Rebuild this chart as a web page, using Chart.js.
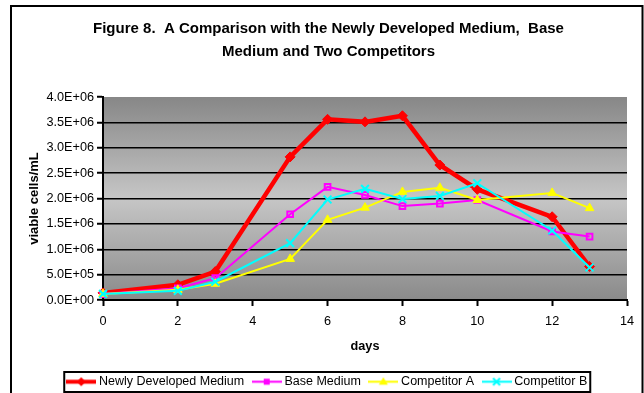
<!DOCTYPE html>
<html>
<head>
<meta charset="utf-8">
<script src="https://cdn.jsdelivr.net/npm/chart.js@4"></script>
<style>
  html, body { margin: 0; padding: 0; background: #fff; }
  #wrap { width: 644px; height: 393px; }
</style>
</head>
<body>
<div id="wrap"><canvas id="c" width="644" height="393"></canvas></div>
<script>
// Viable cell density over the culture period
const days = [0, 2, 3, 5, 6, 7, 8, 9, 10, 12, 13];
const newlyDeveloped = [140000, 300000, 560000, 2820000, 3560000, 3510000, 3630000, 2660000, 2180000, 1640000, 660000];
const baseMedium     = [120000, 230000, 430000, 1690000, 2230000, 2070000, 1850000, 1900000, 1970000, 1350000, 1250000];
const competitorA    = [120000, 200000, 320000, 810000, 1580000, 1820000, 2130000, 2210000, 1970000, 2110000, 1810000];
const competitorB    = [120000, 180000, 360000, 1120000, 1980000, 2190000, 1990000, 2050000, 2300000, 1370000, 640000];

const seriesNames = ['Newly Developed Medium', 'Base Medium', 'Competitor A', 'Competitor B'];
const titleLines = ['Figure 8.  A Comparison with the Newly Developed Medium,  Base', 'Medium and Two Competitors'];
const xTickLabels = ['0', '2', '4', '6', '8', '10', '12', '14'];
const yTickLabels = ['0.0E+00', '5.0E+05', '1.0E+06', '1.5E+06', '2.0E+06', '2.5E+06', '3.0E+06', '3.5E+06', '4.0E+06'];
const xTitle = 'days';
const yTitle = 'viable cells/mL';

const FONT = 'Liberation Sans';

const points = (ys) => days.map((d, i) => ({ x: d, y: ys[i] }));

// Small line-with-marker swatches for the legend
function swatch(color, lineW, shape) {
  const c = document.createElement('canvas');
  c.width = 30; c.height = 13;
  const g = c.getContext('2d');
  const cx = 15, cy = 6.5;
  g.strokeStyle = color; g.fillStyle = color; g.lineWidth = lineW;
  g.beginPath(); g.moveTo(0, cy); g.lineTo(30, cy); g.stroke();
  g.beginPath();
  if (shape === 'diamond') {
    g.moveTo(cx - 4.5, cy); g.lineTo(cx, cy - 4.5); g.lineTo(cx + 4.5, cy); g.lineTo(cx, cy + 4.5); g.closePath(); g.fill();
  } else if (shape === 'square') {
    g.fillRect(cx - 3, cy - 3, 6, 6);
  } else if (shape === 'triangle') {
    g.moveTo(cx, cy - 4.5); g.lineTo(cx + 4.5, cy + 3); g.lineTo(cx - 4.5, cy + 3); g.closePath(); g.fill();
  } else if (shape === 'cross') {
    g.lineWidth = 2;
    g.moveTo(cx - 3.5, cy - 3.5); g.lineTo(cx + 3.5, cy + 3.5);
    g.moveTo(cx + 3.5, cy - 3.5); g.lineTo(cx - 3.5, cy + 3.5); g.stroke();
  }
  return c;
}
const legendSwatches = [
  swatch('#ff0000', 4, 'diamond'),
  swatch('#ff00ff', 2, 'square'),
  swatch('#ffff00', 2, 'triangle'),
  swatch('#00ffff', 2, 'cross')
];

// Page background, chart frame and shaded plot area
const backdrop = {
  id: 'backdrop',
  beforeDraw(chart) {
    const { ctx, chartArea: a } = chart;
    ctx.save();
    ctx.fillStyle = '#ffffff';
    ctx.fillRect(0, 0, chart.width, chart.height);
    const grad = ctx.createLinearGradient(0, a.top, 0, a.bottom);
    grad.addColorStop(0, '#878787');
    grad.addColorStop(0.5, '#c6c6c6');
    grad.addColorStop(1, '#8a8a8a');
    ctx.fillStyle = grad;
    ctx.fillRect(a.left, a.top, a.right - a.left, a.bottom - a.top);
    ctx.restore();
  },
  afterDraw(chart) {
    const { ctx } = chart;
    ctx.save();
    ctx.strokeStyle = '#000';
    ctx.lineWidth = 2;
    ctx.strokeRect(11, 6, 631.5, 420);
    // box round the legend entries
    const hb = chart.legend.legendHitBoxes;
    if (hb && hb.length) {
      const first = hb[0], last = hb[hb.length - 1];
      const x0 = first.left - 5.5;
      const x1 = last.left + last.width + 3;
      const y0 = first.top - 3.5;
      ctx.strokeRect(x0, y0, x1 - x0, first.height + 7.5);
    }
    ctx.restore();
  }
};

const tickFont = { family: FONT, size: 12.7 };

new Chart(document.getElementById('c'), {
  type: 'line',
  data: {
    datasets: [
      { label: seriesNames[0], data: points(newlyDeveloped), borderColor: '#ff0000', backgroundColor: '#ff0000',
        borderWidth: 4.5, pointStyle: 'rectRot', pointRadius: 5, pointBorderWidth: 1, order: 3 },
      { label: seriesNames[1], data: points(baseMedium), borderColor: '#ff00ff', backgroundColor: 'rgba(0,0,0,0)',
        borderWidth: 2, pointStyle: 'rect', pointRadius: 4, pointBorderWidth: 2, order: 2 },
      { label: seriesNames[2], data: points(competitorA), borderColor: '#ffff00', backgroundColor: '#ffff00',
        borderWidth: 2, pointStyle: 'triangle', pointRadius: 5, pointBorderWidth: 1, order: 1 },
      { label: seriesNames[3], data: points(competitorB), borderColor: '#00ffff', backgroundColor: '#00ffff',
        borderWidth: 2, pointStyle: 'crossRot', pointRadius: 5.5, pointBorderWidth: 2, order: 0 }
    ]
  },
  options: {
    responsive: false,
    animation: false,
    devicePixelRatio: 1,
    clip: false,
    layout: { padding: { left: 30, right: 17, top: 0, bottom: -5 } },
    elements: { line: { tension: 0, fill: false } },
    scales: {
      x: {
        type: 'linear',
        min: 0, max: 14,
        afterFit(scale) { scale.height = 64.5; },
        ticks: { stepSize: 2, color: '#000', font: tickFont, padding: 8, maxRotation: 0,
                 callback: (v) => xTickLabels[Math.round(v / 2)] },
        grid: { drawOnChartArea: false, color: '#000', tickColor: '#000', tickLength: 6, tickWidth: 2 },
        border: { color: '#000', width: 2 },
        title: { display: true, text: xTitle, color: '#000',
                 font: { family: FONT, size: 12.7, weight: 'bold', lineHeight: 1.2 },
                 padding: { top: 0, bottom: 9.9 } }
      },
      y: {
        min: 0, max: 4000000,
        afterFit(scale) { scale.width = 73; },
        ticks: { stepSize: 500000, color: '#000', font: tickFont, padding: 3,
                 callback: (v) => yTickLabels[Math.round(v / 500000)] },
        grid: {
          color: (ctx) => (ctx.tick && (ctx.tick.value === 0 || ctx.tick.value === 4000000)) ? 'rgba(0,0,0,0)' : '#000',
          tickColor: '#000', lineWidth: 1.5, tickLength: 6, tickWidth: 2
        },
        border: { color: '#000', width: 2 },
        title: { display: true, text: yTitle, color: '#000',
                 font: { family: FONT, size: 13, weight: 'bold', lineHeight: 1 },
                 padding: { top: -2, bottom: 0 } }
      }
    },
    plugins: {
      tooltip: { enabled: false },
      title: {
        display: true,
        text: titleLines,
        color: '#000',
        font: { family: FONT, size: 15, weight: 'bold', lineHeight: 23 / 15 },
        padding: { top: 17, bottom: 34 }
      },
      legend: {
        position: 'bottom',
        labels: {
          color: '#000',
          font: { family: FONT, size: 12.5 },
          usePointStyle: true,
          pointStyleWidth: 23,
          padding: 11,
          generateLabels(chart) {
            const items = Chart.defaults.plugins.legend.labels.generateLabels(chart);
            items.sort((a, b) => a.datasetIndex - b.datasetIndex);
            items.forEach((it) => { it.pointStyle = legendSwatches[it.datasetIndex]; it.rotation = 0; });
            return items;
          }
        }
      }
    }
  },
  plugins: [backdrop]
});
</script>
</body>
</html>
